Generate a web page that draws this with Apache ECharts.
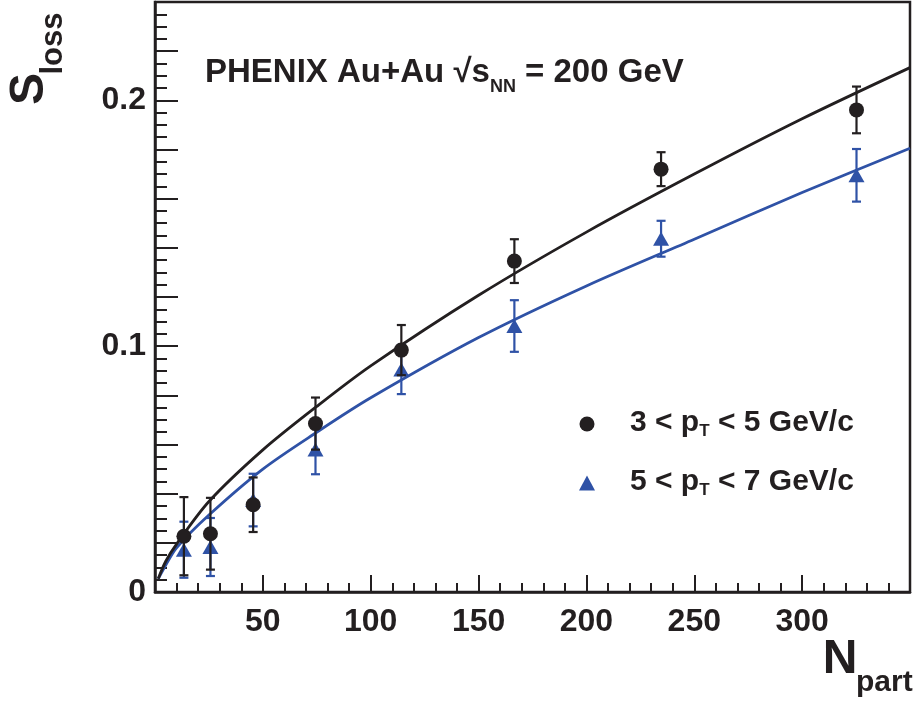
<!DOCTYPE html>
<html>
<head>
<meta charset="utf-8">
<script src="https://cdn.jsdelivr.net/npm/echarts@6/dist/echarts.min.js"></script>
<style>
html,body{margin:0;padding:0;background:#fff;}
#chart{width:919px;height:704px;}
</style>
</head>
<body>
<div id="chart"></div>
<script>
// ---- data ----
const nPart = [13.4, 25.7, 45.5, 74.4, 114.2, 166.6, 234.6, 325.2];
const sLoss35 = [0.0227, 0.0237, 0.0355, 0.0685, 0.0984, 0.1346, 0.1720, 0.1961];
const err35   = [0.0159, 0.0146, 0.0111, 0.0106, 0.0102, 0.0089, 0.0069, 0.0095];
const sLoss57 = [0.0172, 0.0183, 0.0374, 0.0580, 0.0905, 0.1082, 0.1437, 0.1695];
const err57   = [0.0114, 0.0118, 0.0107, 0.0101, 0.0100, 0.0105, 0.0073, 0.0107];
// fitted curves
const fitN    = [1.5, 5, 10, 25, 50, 75, 100, 150, 200, 250, 300, 350];
const fit35   = [0.0054, 0.0125, 0.0195, 0.0368, 0.0578, 0.0755, 0.0920, 0.1207, 0.1464, 0.1700, 0.1925, 0.2133];
const fit57   = [0.0054, 0.0110, 0.0180, 0.0313, 0.0500, 0.0650, 0.0790, 0.1035, 0.1245, 0.1435, 0.1625, 0.1805];
const xTicks = [0, 50, 100, 150, 200, 250, 300, 350];
const yLabels = ['0', '0.1', '0.2'];
const name35 = '3 < pT < 5 GeV/c';
const name57 = '5 < pT < 7 GeV/c';

const INK = '#231f20';
const BLUE = '#2f52a6';
const FONT = "'Liberation Sans', Arial, Helvetica, sans-serif";

const chart = echarts.init(document.getElementById('chart'), null, {renderer: 'canvas'});

function zip2(a, b) { return a.map((v, i) => [v, b[i]]); }
function zip3(a, b, c) { return a.map((v, i) => [v, b[i], c[i]]); }

function errBar(color) {
  return function (params, api) {
    const x = api.value(0), y = api.value(1), e = api.value(2);
    const top = api.coord([x, y + e]);
    const bot = api.coord([x, y - e]);
    const w = 4.5;
    const st = {stroke: color, lineWidth: 2.2, fill: null};
    return {
      type: 'group',
      children: [
        {type: 'line', shape: {x1: top[0], y1: top[1], x2: bot[0], y2: bot[1]}, style: st},
        {type: 'line', shape: {x1: top[0] - w, y1: top[1], x2: top[0] + w, y2: top[1]}, style: st},
        {type: 'line', shape: {x1: bot[0] - w, y1: bot[1], x2: bot[0] + w, y2: bot[1]}, style: st}
      ]
    };
  };
}

function legendRich(name) {
  const m = name.match(/^(\d) < pT < (\d) GeV\/c$/);
  return '{g| }{m|' + m[1] + ' < p}{s|T}{m| < ' + m[2] + ' GeV/c}';
}

const option = {
  animation: false,
  backgroundColor: '#fff',
  grid: {left: 155, right: 9, top: 2, bottom: 112, show: true, borderColor: INK, borderWidth: 2.5, backgroundColor: 'transparent'},
  xAxis: {
    type: 'value', min: xTicks[0], max: xTicks[xTicks.length - 1], interval: 50,
    axisLine: {show: true, lineStyle: {color: INK, width: 2.5}},
    axisTick: {show: true, inside: true, length: 17, lineStyle: {color: INK, width: 2}},
    minorTick: {show: true, splitNumber: 5, length: 9, lineStyle: {color: INK, width: 2}},
    splitLine: {show: false},
    axisLabel: {
      color: INK, fontFamily: FONT, fontWeight: 'bold', fontSize: 32, margin: 14,
      showMinLabel: false, showMaxLabel: false
    }
  },
  yAxis: {
    type: 'value', min: 0, max: 0.24, interval: 0.02,
    axisLine: {show: true, lineStyle: {color: INK, width: 2.5}},
    axisTick: {show: true, inside: true, length: 23, lineStyle: {color: INK, width: 2}},
    minorTick: {show: true, splitNumber: 4, length: 12, lineStyle: {color: INK, width: 2}},
    splitLine: {show: false},
    axisLabel: {
      color: INK, fontFamily: FONT, fontWeight: 'bold', fontSize: 32, margin: 9,
      showMaxLabel: false,
      formatter: function (v) {
        const r = Math.round(v * 100) / 100;
        for (const s of yLabels) { if (Math.abs(r - parseFloat(s)) < 1e-6) return s; }
        return '';
      }
    }
  },
  legend: {
    orient: 'vertical', left: 574, top: 400,
    itemWidth: 16, itemHeight: 15, itemGap: 24,
    data: [{name: name35, icon: 'circle'}, {name: name57, icon: 'triangle'}],
    formatter: legendRich,
    textStyle: {
      color: INK,
      rich: {
        g: {width: 30},
        m: {fontFamily: FONT, fontWeight: 'bold', fontSize: 30, color: INK, lineHeight: 32, verticalAlign: 'top'},
        s: {fontFamily: FONT, fontWeight: 'bold', fontSize: 17, color: INK, lineHeight: 17, verticalAlign: 'bottom', padding: [18, 0, 0, 0]}
      }
    }
  },
  graphic: [
    {
      type: 'text', left: 205, top: 45,
      style: {
        text: '{m|PHENIX Au+Au √s}{s|NN}{m| = 200 GeV}',
        rich: {
          m: {fontFamily: FONT, fontWeight: 'bold', fontSize: 33, fill: INK, lineHeight: 40, verticalAlign: 'top'},
          s: {fontFamily: FONT, fontWeight: 'bold', fontSize: 18, fill: INK, lineHeight: 20, verticalAlign: 'bottom', padding: [33, 0, 0, 0]}
        }
      }
    },
    {
      type: 'text', x: 30, y: 89, rotation: Math.PI / 2,
      style: {text: 'S', fontFamily: FONT, fontWeight: 'bold', fontSize: 48, fill: INK, align: 'center', verticalAlign: 'middle'}
    },
    {
      type: 'text', x: 53, y: 43.5, rotation: Math.PI / 2,
      style: {text: 'loss', fontFamily: FONT, fontWeight: 'bold', fontSize: 31, fill: INK, align: 'center', verticalAlign: 'middle'}
    },
    {
      type: 'text', x: 840, y: 660,
      style: {text: 'N', fontFamily: FONT, fontWeight: 'bold', fontSize: 48, fill: INK, align: 'center', verticalAlign: 'middle'}
    },
    {
      type: 'text', x: 856, y: 683,
      style: {text: 'part', fontFamily: FONT, fontWeight: 'bold', fontSize: 30, fill: INK, align: 'left', verticalAlign: 'middle'}
    }
  ],
  series: [
    {type: 'line', name: 'fit57', data: zip2(fitN, fit57), smooth: 0.3, showSymbol: false, z: 2,
     lineStyle: {color: BLUE, width: 2.8}, itemStyle: {color: BLUE}, silent: true},
    {type: 'line', name: 'fit35', data: zip2(fitN, fit35), smooth: 0.3, showSymbol: false, z: 2,
     lineStyle: {color: INK, width: 2.8}, itemStyle: {color: INK}, silent: true},
    {type: 'custom', name: 'err57', data: zip3(nPart, sLoss57, err57), renderItem: errBar(BLUE), z: 3,
     encode: {x: 0, y: 1}},
    {type: 'scatter', name: name57, data: zip2(nPart, sLoss57), symbol: 'triangle', symbolSize: [16, 14], z: 4,
     itemStyle: {color: BLUE, opacity: 1}},
    {type: 'custom', name: 'err35', data: zip3(nPart, sLoss35, err35), renderItem: errBar(INK), z: 5,
     encode: {x: 0, y: 1}},
    {type: 'scatter', name: name35, data: zip2(nPart, sLoss35), symbol: 'circle', symbolSize: 15, z: 6,
     itemStyle: {color: INK, opacity: 1}}
  ]
};
chart.setOption(option);
</script>
</body>
</html>
